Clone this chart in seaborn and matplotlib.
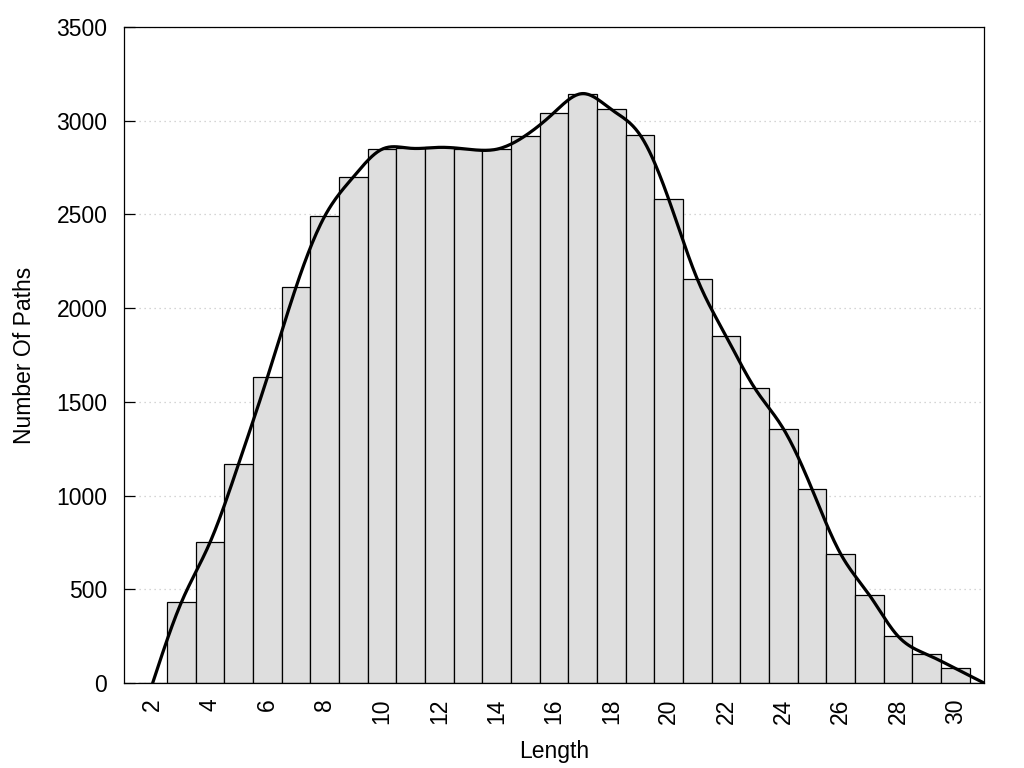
import numpy as np
import matplotlib
matplotlib.use("Agg")
import matplotlib.pyplot as plt
import seaborn as sns

# path length -> number of paths
lengths = list(range(2, 32))
counts = [0, 430, 750, 1170, 1630, 2112, 2490, 2700, 2848, 2853,
          2858, 2848, 2848, 2920, 3043, 3145, 3060, 2925, 2582, 2155,
          1852, 1574, 1357, 1035, 689, 470, 250, 153, 78, 0]
x_ticks = list(range(2, 31, 2))
y_ticks = list(range(0, 3501, 500))


def natural_spline(x, y, n=600):
    """Natural cubic spline through the counts (like gnuplot 'smooth csplines')."""
    x = np.asarray(x, float)
    y = np.asarray(y, float)
    k = len(x)
    h = np.diff(x)
    A = np.zeros((k, k))
    b = np.zeros(k)
    A[0, 0] = A[-1, -1] = 1
    for i in range(1, k - 1):
        A[i, i - 1] = h[i - 1]
        A[i, i] = 2 * (h[i - 1] + h[i])
        A[i, i + 1] = h[i]
        b[i] = 6 * ((y[i + 1] - y[i]) / h[i] - (y[i] - y[i - 1]) / h[i - 1])
    m = np.linalg.solve(A, b)
    xs = np.linspace(x[0], x[-1], n)
    idx = np.clip(np.searchsorted(x, xs) - 1, 0, k - 2)
    t0 = xs - x[idx]
    t1 = x[idx + 1] - xs
    hi = h[idx]
    ys = (m[idx] * t1 ** 3 + m[idx + 1] * t0 ** 3) / (6 * hi) \
        + (y[idx] / hi - m[idx] * hi / 6) * t1 \
        + (y[idx + 1] / hi - m[idx + 1] * hi / 6) * t0
    return xs, ys


sns.set_style("white")
plt.rcParams["font.family"] = ["Liberation Sans", "DejaVu Sans"]
plt.rcParams["font.size"] = 16
for key in ["text.color", "axes.labelcolor", "xtick.color", "ytick.color"]:
    plt.rcParams[key] = "black"

fig = plt.figure(figsize=(10.24, 7.68), dpi=100)
ax = fig.add_axes([0.1211, 0.1107, 0.8398, 0.8541])

ax.yaxis.grid(True, color="#c8c8c8", linestyle=(0, (1, 3)), linewidth=0.9)
ax.set_axisbelow(True)

sns.barplot(x=lengths, y=counts, native_scale=True, width=1,
            color="#dedede", saturation=1, edgecolor="black",
            linewidth=0.9, ax=ax, zorder=2)

xs, ys = natural_spline(lengths, counts)
sns.lineplot(x=xs, y=ys, sort=False, color="black", linewidth=2.3,
             ax=ax, zorder=3)

ax.set_xlim(1, 31)
ax.set_ylim(0, 3500)
ax.set_xticks(x_ticks)
ax.set_xticklabels([str(t) for t in x_ticks], rotation=90)
ax.set_yticks(y_ticks)
ax.tick_params(axis="x", length=0, pad=11, labelsize=16.5)
ax.tick_params(axis="y", direction="in", length=8, width=0.9, pad=12,
               labelsize=16.5, left=True)

for s in ax.spines.values():
    s.set_visible(True)
    s.set_color("black")
    s.set_linewidth(0.9)

ax.set_xlabel("Length", fontsize=16.5, labelpad=12)
ax.set_ylabel("Number Of Paths", fontsize=16.5, labelpad=15)

fig.savefig("out.png", dpi=100)
